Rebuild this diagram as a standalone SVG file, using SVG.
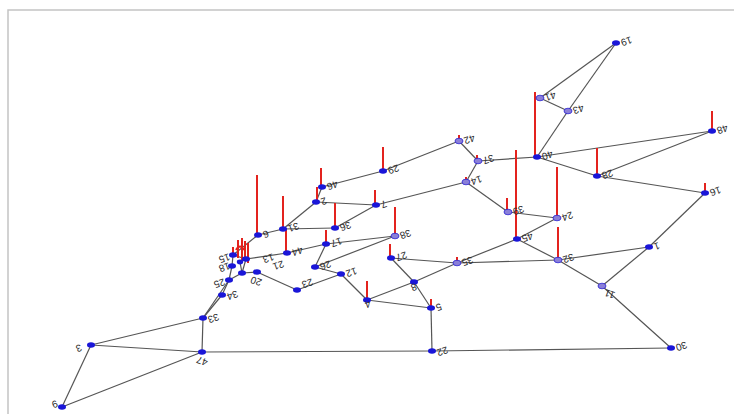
<svg xmlns="http://www.w3.org/2000/svg" width="734" height="414" viewBox="0 0 734 414">
<style>
.e{stroke:#555;stroke-width:1.2;fill:none}
.s{stroke:#e3231e;stroke-width:2}
.n{fill:#1a16d8}
.h{fill:#8a7fd8;stroke:#2a22d0;stroke-width:0.8}
.l{font-family:"Liberation Sans",Arial,sans-serif;font-size:10px;fill:#2a2a2a;text-anchor:end}
</style>
<rect x="0" y="0" width="734" height="414" fill="#fff"/>
<rect x="8" y="10" width="740" height="420" fill="none" stroke="#c4c4c4" stroke-width="1.5"/>
<g id="connectors">
<line class="e" x1="616" y1="43" x2="540" y2="98"/>
<line class="e" x1="616" y1="43" x2="568" y2="111"/>
<line class="e" x1="568" y1="111" x2="537" y2="157"/>
<line class="e" x1="540" y1="98" x2="568" y2="111"/>
<line class="e" x1="537" y1="157" x2="712" y2="131"/>
<line class="e" x1="537" y1="157" x2="597" y2="176"/>
<line class="e" x1="597" y1="176" x2="712" y2="131"/>
<line class="e" x1="597" y1="176" x2="705" y2="193"/>
<line class="e" x1="537" y1="157" x2="478" y2="161"/>
<line class="e" x1="459" y1="141" x2="478" y2="161"/>
<line class="e" x1="459" y1="141" x2="383" y2="171"/>
<line class="e" x1="383" y1="171" x2="322" y2="187"/>
<line class="e" x1="322" y1="187" x2="316" y2="202"/>
<line class="e" x1="478" y1="161" x2="466" y2="182"/>
<line class="e" x1="466" y1="182" x2="376" y2="205"/>
<line class="e" x1="466" y1="182" x2="508" y2="212"/>
<line class="e" x1="508" y1="212" x2="557" y2="218"/>
<line class="e" x1="557" y1="218" x2="517" y2="239"/>
<line class="e" x1="517" y1="239" x2="457" y2="263"/>
<line class="e" x1="517" y1="239" x2="558" y2="260"/>
<line class="e" x1="457" y1="263" x2="558" y2="260"/>
<line class="e" x1="391" y1="258" x2="457" y2="263"/>
<line class="e" x1="457" y1="263" x2="414" y2="282"/>
<line class="e" x1="391" y1="258" x2="414" y2="282"/>
<line class="e" x1="414" y1="282" x2="367" y2="300"/>
<line class="e" x1="414" y1="282" x2="431" y2="308"/>
<line class="e" x1="367" y1="300" x2="431" y2="308"/>
<line class="e" x1="431" y1="308" x2="432" y2="351"/>
<line class="e" x1="432" y1="351" x2="202" y2="352"/>
<line class="e" x1="432" y1="351" x2="671" y2="348"/>
<polyline class="e" points="671,348 642,322 602,286"/>
<line class="e" x1="602" y1="286" x2="558" y2="260"/>
<line class="e" x1="602" y1="286" x2="649" y2="247"/>
<line class="e" x1="649" y1="247" x2="558" y2="260"/>
<line class="e" x1="649" y1="247" x2="705" y2="193"/>
<line class="e" x1="316" y1="202" x2="376" y2="205"/>
<line class="e" x1="316" y1="202" x2="283" y2="229"/>
<line class="e" x1="283" y1="229" x2="258" y2="235"/>
<line class="e" x1="283" y1="229" x2="335" y2="228"/>
<line class="e" x1="376" y1="205" x2="335" y2="228"/>
<line class="e" x1="287" y1="253" x2="326" y2="244"/>
<line class="e" x1="326" y1="244" x2="395" y2="236"/>
<line class="e" x1="326" y1="244" x2="315" y2="267"/>
<line class="e" x1="315" y1="267" x2="395" y2="236"/>
<line class="e" x1="315" y1="267" x2="341" y2="274"/>
<line class="e" x1="341" y1="274" x2="367" y2="300"/>
<line class="e" x1="341" y1="274" x2="297" y2="290"/>
<line class="e" x1="297" y1="290" x2="257" y2="272"/>
<line class="e" x1="257" y1="272" x2="242" y2="273"/>
<line class="e" x1="242" y1="273" x2="229" y2="280"/>
<line class="e" x1="229" y1="280" x2="222" y2="295"/>
<line class="e" x1="222" y1="295" x2="203" y2="318"/>
<line class="e" x1="229" y1="280" x2="203" y2="318"/>
<line class="e" x1="203" y1="318" x2="91" y2="345"/>
<line class="e" x1="203" y1="318" x2="202" y2="352"/>
<line class="e" x1="91" y1="345" x2="202" y2="352"/>
<line class="e" x1="91" y1="345" x2="62" y2="407"/>
<line class="e" x1="62" y1="407" x2="202" y2="352"/>
<line class="e" x1="258" y1="235" x2="233" y2="255"/>
<line class="e" x1="287" y1="253" x2="246" y2="259"/>
<line class="e" x1="233" y1="255" x2="232" y2="266"/>
<line class="e" x1="233" y1="255" x2="246" y2="259"/>
<line class="e" x1="246" y1="259" x2="242" y2="273"/>
<line class="e" x1="232" y1="266" x2="229" y2="280"/>
<line class="e" x1="240" y1="262" x2="242" y2="273"/>
</g>
<g id="stems">
<line class="s" x1="535" y1="92" x2="535" y2="157"/>
<line class="s" x1="597" y1="148" x2="597" y2="176"/>
<line class="s" x1="712" y1="111" x2="712" y2="131"/>
<line class="s" x1="705" y1="183" x2="705" y2="193"/>
<line class="s" x1="516" y1="150" x2="516" y2="239"/>
<line class="s" x1="557" y1="167" x2="557" y2="218"/>
<line class="s" x1="558" y1="227" x2="558" y2="260"/>
<line class="s" x1="507" y1="198" x2="507" y2="212"/>
<line class="s" x1="459" y1="135" x2="459" y2="141"/>
<line class="s" x1="477" y1="155" x2="477" y2="161"/>
<line class="s" x1="466" y1="177" x2="466" y2="182"/>
<line class="s" x1="383" y1="147" x2="383" y2="171"/>
<line class="s" x1="321" y1="168" x2="321" y2="187"/>
<line class="s" x1="317" y1="187" x2="317" y2="202"/>
<line class="s" x1="375" y1="190" x2="375" y2="205"/>
<line class="s" x1="335" y1="203" x2="335" y2="228"/>
<line class="s" x1="326" y1="230" x2="326" y2="244"/>
<line class="s" x1="395" y1="207" x2="395" y2="236"/>
<line class="s" x1="390" y1="244" x2="390" y2="258"/>
<line class="s" x1="457" y1="257" x2="457" y2="263"/>
<line class="s" x1="367" y1="281" x2="367" y2="300"/>
<line class="s" x1="431" y1="299" x2="431" y2="308"/>
<line class="s" x1="257" y1="175" x2="257" y2="235"/>
<line class="s" x1="283" y1="196" x2="283" y2="229"/>
<line class="s" x1="286" y1="228" x2="286" y2="253"/>
<line class="s" x1="238" y1="240" x2="238" y2="258"/>
<line class="s" x1="242" y1="238" x2="242" y2="262"/>
<line class="s" x1="245" y1="241" x2="245" y2="258"/>
<line class="s" x1="248" y1="243" x2="248" y2="263"/>
<line class="s" x1="233" y1="247" x2="233" y2="255"/>
<path class="s" d="M236 250 q4 -7 8 0" fill="none" stroke-width="1.2"/>
</g>
<g id="n19"><ellipse class="n" cx="616" cy="43" rx="4" ry="2.8"/><text class="l" transform="translate(620,40) rotate(160)">19</text></g>
<g id="n41"><ellipse class="h" cx="540" cy="98" rx="4" ry="2.8"/><text class="l" transform="translate(544,95) rotate(160)">41</text></g>
<g id="n43"><ellipse class="h" cx="568" cy="111" rx="4" ry="2.8"/><text class="l" transform="translate(572,108) rotate(160)">43</text></g>
<g id="n40"><ellipse class="n" cx="537" cy="157" rx="4" ry="2.8"/><text class="l" transform="translate(541,154) rotate(160)">40</text></g>
<g id="n48"><ellipse class="n" cx="712" cy="131" rx="4" ry="2.8"/><text class="l" transform="translate(716,128) rotate(160)">48</text></g>
<g id="n28"><ellipse class="n" cx="597" cy="176" rx="4" ry="2.8"/><text class="l" transform="translate(601,173) rotate(160)">28</text></g>
<g id="n16"><ellipse class="n" cx="705" cy="193" rx="4" ry="2.8"/><text class="l" transform="translate(709,190) rotate(160)">16</text></g>
<g id="n42"><ellipse class="h" cx="459" cy="141" rx="4" ry="2.8"/><text class="l" transform="translate(463,138) rotate(160)">42</text></g>
<g id="n37"><ellipse class="h" cx="478" cy="161" rx="4" ry="2.8"/><text class="l" transform="translate(482,158) rotate(160)">37</text></g>
<g id="n14"><ellipse class="h" cx="466" cy="182" rx="4" ry="2.8"/><text class="l" transform="translate(470,179) rotate(160)">14</text></g>
<g id="n29"><ellipse class="n" cx="383" cy="171" rx="4" ry="2.8"/><text class="l" transform="translate(387,168) rotate(160)">29</text></g>
<g id="n46"><ellipse class="n" cx="322" cy="187" rx="4" ry="2.8"/><text class="l" transform="translate(326,184) rotate(160)">46</text></g>
<g id="n2"><ellipse class="n" cx="316" cy="202" rx="4" ry="2.8"/><text class="l" transform="translate(320,199) rotate(160)">2</text></g>
<g id="n7"><ellipse class="n" cx="376" cy="205" rx="4" ry="2.8"/><text class="l" transform="translate(380,202) rotate(160)">7</text></g>
<g id="n36"><ellipse class="n" cx="335" cy="228" rx="4" ry="2.8"/><text class="l" transform="translate(339,225) rotate(160)">36</text></g>
<g id="n17"><ellipse class="n" cx="326" cy="244" rx="4" ry="2.8"/><text class="l" transform="translate(330,241) rotate(160)">17</text></g>
<g id="n38"><ellipse class="h" cx="395" cy="236" rx="4" ry="2.8"/><text class="l" transform="translate(399,233) rotate(160)">38</text></g>
<g id="n26"><ellipse class="n" cx="315" cy="267" rx="4" ry="2.8"/><text class="l" transform="translate(319,264) rotate(160)">26</text></g>
<g id="n12"><ellipse class="n" cx="341" cy="274" rx="4" ry="2.8"/><text class="l" transform="translate(345,271) rotate(160)">12</text></g>
<g id="n39"><ellipse class="h" cx="508" cy="212" rx="4" ry="2.8"/><text class="l" transform="translate(512,209) rotate(160)">39</text></g>
<g id="n24"><ellipse class="h" cx="557" cy="218" rx="4" ry="2.8"/><text class="l" transform="translate(561,215) rotate(160)">24</text></g>
<g id="n45"><ellipse class="n" cx="517" cy="239" rx="4" ry="2.8"/><text class="l" transform="translate(521,236) rotate(160)">45</text></g>
<g id="n27"><ellipse class="n" cx="391" cy="258" rx="4" ry="2.8"/><text class="l" transform="translate(395,255) rotate(160)">27</text></g>
<g id="n35"><ellipse class="h" cx="457" cy="263" rx="4" ry="2.8"/><text class="l" transform="translate(461,260) rotate(160)">35</text></g>
<g id="n32"><ellipse class="h" cx="558" cy="260" rx="4" ry="2.8"/><text class="l" transform="translate(562,257) rotate(160)">32</text></g>
<g id="n1"><ellipse class="n" cx="649" cy="247" rx="4" ry="2.8"/><text class="l" transform="translate(653,244) rotate(160)">1</text></g>
<g id="n11"><ellipse class="h" cx="602" cy="286" rx="4" ry="2.8"/><text class="l" transform="translate(606,289) rotate(200)">11</text></g>
<g id="n30"><ellipse class="n" cx="671" cy="348" rx="4" ry="2.8"/><text class="l" transform="translate(675,345) rotate(160)">30</text></g>
<g id="n22"><ellipse class="n" cx="432" cy="351" rx="4" ry="2.8"/><text class="l" transform="translate(436,350) rotate(160)">22</text></g>
<g id="n5"><ellipse class="n" cx="431" cy="308" rx="4" ry="2.8"/><text class="l" transform="translate(435,305) rotate(160)">5</text></g>
<g id="n8"><ellipse class="n" cx="414" cy="282" rx="4" ry="2.8"/><text class="l" transform="translate(410,285) rotate(160)">8</text></g>
<g id="n4"><ellipse class="n" cx="367" cy="300" rx="4" ry="2.8"/><text class="l" transform="translate(364,302) rotate(160)">4</text></g>
<g id="n31"><ellipse class="n" cx="283" cy="229" rx="4" ry="2.8"/><text class="l" transform="translate(287,226) rotate(160)">31</text></g>
<g id="n6"><ellipse class="n" cx="258" cy="235" rx="4" ry="2.8"/><text class="l" transform="translate(262,232) rotate(160)">6</text></g>
<g id="n44"><ellipse class="n" cx="287" cy="253" rx="4" ry="2.8"/><text class="l" transform="translate(291,250) rotate(160)">44</text></g>
<g id="n23"><ellipse class="n" cx="297" cy="290" rx="4" ry="2.8"/><text class="l" transform="translate(301,282) rotate(160)">23</text></g>
<g id="n21"><ellipse class="n" cx="257" cy="272" rx="4" ry="2.8"/><text class="l" transform="translate(272,264) rotate(160)">21</text></g>
<g id="n20"><ellipse class="n" cx="242" cy="273" rx="4" ry="2.8"/><text class="l" transform="translate(252,276) rotate(200)">20</text></g>
<g id="n13"><ellipse class="n" cx="246" cy="259" rx="4" ry="2.8"/><text class="l" transform="translate(262,257) rotate(160)">13</text></g>
<g id="n15"><ellipse class="n" cx="233" cy="255" rx="4" ry="2.8"/><text class="l" transform="translate(218,257) rotate(160)">15</text></g>
<g id="n18"><ellipse class="n" cx="232" cy="266" rx="4" ry="2.8"/><text class="l" transform="translate(218,266) rotate(160)">18</text></g>
<g id="n9c"><ellipse class="n" cx="240" cy="262" rx="3.2" ry="2.4"/></g>
<g id="n25"><ellipse class="n" cx="229" cy="280" rx="4" ry="2.8"/><text class="l" transform="translate(213,282) rotate(160)">25</text></g>
<g id="n34"><ellipse class="n" cx="222" cy="295" rx="4" ry="2.8"/><text class="l" transform="translate(226,294) rotate(160)">34</text></g>
<g id="n33"><ellipse class="n" cx="203" cy="318" rx="4" ry="2.8"/><text class="l" transform="translate(207,317) rotate(160)">33</text></g>
<g id="n47"><ellipse class="n" cx="202" cy="352" rx="4" ry="2.8"/><text class="l" transform="translate(198,356) rotate(200)">47</text></g>
<g id="n3"><ellipse class="n" cx="91" cy="345" rx="4" ry="2.8"/><text class="l" transform="translate(75,346) rotate(160)">3</text></g>
<g id="n9"><ellipse class="n" cx="62" cy="407" rx="4" ry="2.8"/><text class="l" transform="translate(51,402) rotate(160)">9</text></g>
</svg>
